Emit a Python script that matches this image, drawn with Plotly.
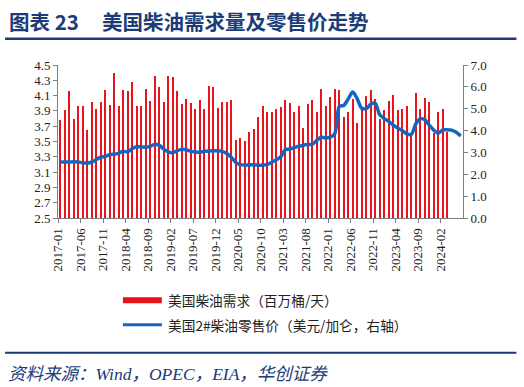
import plotly.graph_objects as go
import pandas as pd

# ---- data ----
months = pd.date_range("2017-01-01", periods=90, freq="MS").strftime("%Y-%m").tolist()

demand = [3.78, 3.91, 4.16, 3.79, 3.97, 3.97, 3.65, 4.01, 3.93, 4.01,
          4.17, 3.98, 4.40, 3.96, 4.17, 4.16, 4.28, 3.96, 3.97, 4.18,
          4.03, 4.35, 4.21, 4.02, 4.36, 4.34, 4.16, 3.99, 4.05, 4.00,
          3.92, 4.04, 3.93, 4.23, 4.21, 3.94, 4.01, 4.01, 4.04, 3.52,
          3.54, 3.51, 3.62, 3.67, 3.82, 3.97, 3.88, 3.89, 3.93, 3.95,
          4.04, 4.00, 3.88, 3.96, 3.68, 3.99, 4.04, 3.89, 4.19, 3.96,
          4.08, 4.18, 4.17, 3.82, 3.88, 4.06, 3.74, 3.94, 4.09, 4.17,
          4.06, 3.79, 3.91, 4.03, 4.11, 3.91, 3.93, 3.97, 3.60, 4.13,
          3.92, 4.07, 4.01, 3.61, 3.88, 3.92, 3.62]

price = [2.56, 2.56, 2.56, 2.57, 2.56, 2.53, 2.52, 2.55, 2.68, 2.78,
         2.82, 2.90, 2.92, 2.97, 3.05, 3.02, 3.18, 3.26, 3.25, 3.24,
         3.28, 3.37, 3.32, 3.15, 3.02, 2.98, 3.08, 3.14, 3.12, 3.05,
         3.02, 3.01, 3.05, 3.07, 3.08, 3.08, 3.05, 2.95, 2.78, 2.55,
         2.44, 2.42, 2.43, 2.43, 2.42, 2.41, 2.45, 2.55, 2.66, 2.80,
         3.12, 3.15, 3.22, 3.28, 3.33, 3.36, 3.37, 3.55, 3.70, 3.66,
         3.70, 3.85, 5.10, 5.15, 5.45, 5.76, 5.45, 5.02, 5.00, 5.20,
         5.25, 4.72, 4.55, 4.42, 4.25, 4.12, 4.00, 3.85, 3.82, 4.30,
         4.55, 4.50, 4.25, 4.02, 3.88, 4.03, 4.04, 4.02, 3.92, 3.75]

tick_step = 5
tick_pos = list(range(0, len(months), tick_step))
tick_text = [months[i] for i in tick_pos]

# ---- layout geometry (pixels) ----
W, H = 524, 387
L, R, T, B = 58, 463.5, 64.7, 217.7


def px(x):
    return (x - L) / (R - L)


def py(y):
    return (B - y) / (B - T)


NAVY = "#1B3C78"
RED = "#E8141C"
BLUE = "#1565C0"
AXC = "#7f7f7f"
SERIF = "Liberation Serif, Times New Roman, serif"
CJK = "Noto Sans CJK SC, sans-serif"

fig = go.Figure()
fig.add_trace(go.Bar(
    x=[i + 0.5 for i in range(len(demand))], y=demand,
    width=0.55, marker=dict(color=RED, line=dict(width=0)),
    name="美国柴油需求（百万桶/天）", showlegend=False,
))
fig.add_trace(go.Scatter(
    x=[i + 0.5 for i in range(len(price))], y=price, yaxis="y2",
    mode="lines", line=dict(color=BLUE, width=3.5, shape="spline", smoothing=0.8),
    name="美国2#柴油零售价（美元/加仑，右轴）", showlegend=False,
))

axis_common = dict(showgrid=False, zeroline=False, showline=True, linecolor=AXC,
                   linewidth=1, ticks="outside", ticklen=4, tickcolor=AXC,
                   tickfont=dict(family=SERIF, size=13, color="#222"))

fig.update_layout(
    width=W, height=H,
    margin=dict(l=L, r=W - R, t=T, b=H - B),
    paper_bgcolor="white", plot_bgcolor="white",
    xaxis=dict(range=[0, len(months)], tickmode="array", tickvals=tick_pos,
               ticktext=tick_text, tickangle=-90, **axis_common),
    yaxis=dict(range=[2.5, 4.5], dtick=0.2, tick0=2.5, tickformat=".1f", **axis_common),
    yaxis2=dict(range=[0, 7], dtick=1, tick0=0, tickformat=".1f", overlaying="y",
                side="right", **axis_common),
    bargap=0,
)

shapes = []
annotations = []
# title
annotations.append(dict(x=px(7), y=py(21), xref="paper", yref="paper", xanchor="left",
                        yanchor="middle", showarrow=False,
                        text="<b>图表 23</b>", font=dict(family=CJK, size=20.5, color=NAVY)))
annotations.append(dict(x=px(100), y=py(21), xref="paper", yref="paper", xanchor="left",
                        yanchor="middle", showarrow=False,
                        text="<b>美国柴油需求量及零售价走势</b>",
                        font=dict(family=CJK, size=20.5, color=NAVY)))
# header/footer rules
shapes.append(dict(type="line", xref="paper", yref="paper", x0=px(5), x1=px(517),
                   y0=py(38.5), y1=py(38.5), line=dict(color=NAVY, width=2.5)))
shapes.append(dict(type="line", xref="paper", yref="paper", x0=px(5), x1=px(517),
                   y0=py(352.5), y1=py(352.5), line=dict(color=NAVY, width=2)))
# legend
shapes.append(dict(type="rect", xref="paper", yref="paper", x0=px(123), x1=px(162),
                   y0=py(303), y1=py(297), line=dict(width=0), fillcolor=RED))
shapes.append(dict(type="line", xref="paper", yref="paper", x0=px(123), x1=px(162),
                   y0=py(324.5), y1=py(324.5), line=dict(color=BLUE, width=3)))
annotations.append(dict(x=px(166), y=py(300), xref="paper", yref="paper", xanchor="left",
                        yanchor="middle", showarrow=False,
                        text="美国柴油需求（百万桶/天）",
                        font=dict(family=CJK, size=13.7, color="#222")))
annotations.append(dict(x=px(166), y=py(325), xref="paper", yref="paper", xanchor="left",
                        yanchor="middle", showarrow=False,
                        text="美国2#柴油零售价（美元/加仑，右轴）",
                        font=dict(family=CJK, size=13.7, color="#222")))
# source
annotations.append(dict(x=px(6), y=py(374), xref="paper", yref="paper", xanchor="left",
                        yanchor="middle", showarrow=False,
                        text="<i>资料来源：Wind，OPEC，EIA，华创证券</i>",
                        font=dict(family=SERIF + ", Noto Sans CJK SC", size=17.5, color=NAVY)))

fig.update_layout(shapes=shapes, annotations=annotations)
fig.write_html("out.html", config={"displayModeBar": False},
               post_script="document.body.style.margin='0';")
